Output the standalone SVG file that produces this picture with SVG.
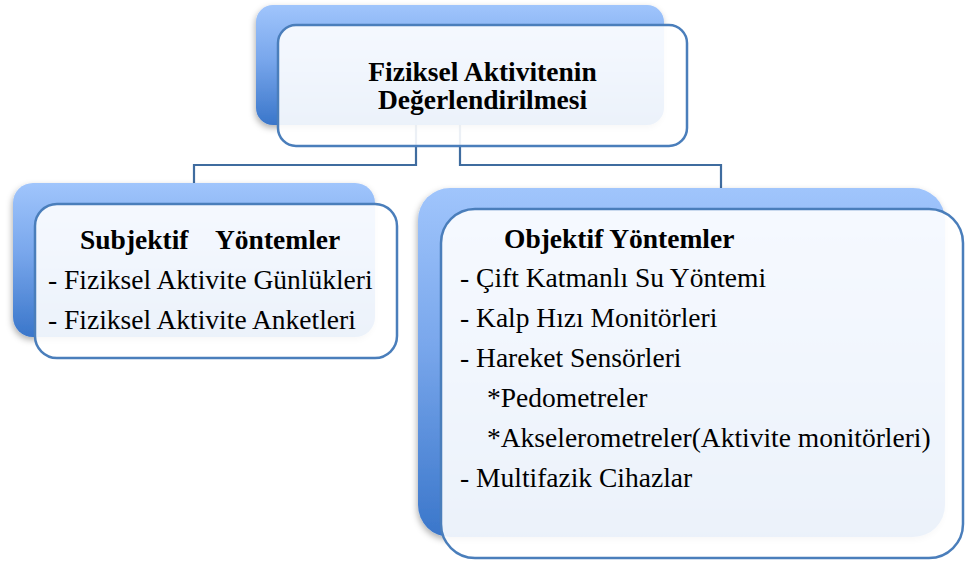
<svg xmlns="http://www.w3.org/2000/svg" width="966" height="562" viewBox="0 0 966 562">
<style>
.back{fill:url(#bg);filter:url(#sh);}
.card{fill:#ffffff;fill-opacity:0.9;stroke:#4a7ebb;stroke-width:2.5;}
.conn{fill:none;stroke:#3f6c9f;stroke-width:2.2;}
text{font-size:27.5px;fill:#000;white-space:pre;}
.b{font-weight:bold;}
.c{text-anchor:middle;}
</style>
<defs>
<linearGradient id="bg" x1="0" y1="0" x2="0" y2="1">
<stop offset="0" stop-color="#a0c5fc"/>
<stop offset="0.45" stop-color="#79a7ec"/>
<stop offset="1" stop-color="#3a76ca"/>
</linearGradient>
<filter id="sh" x="-10%" y="-10%" width="120%" height="125%">
<feDropShadow dx="-1" dy="3" stdDeviation="3" flood-color="#000" flood-opacity="0.3"/>
</filter>
</defs>
<g id="connectors">
<path class="conn" d="M416,125 V165 H194 V184"/>
<path class="conn" d="M460,125 V165 H721 V189"/>
</g>
<g id="node-top" font-family="Liberation Serif, Tinos, Times New Roman, DejaVu Serif, serif">
<rect class="back" x="256" y="5" width="408" height="120" rx="17"/>
<rect class="card" x="278" y="25" width="409" height="121" rx="18"/>
<text class="b c" x="482.5" y="81">Fiziksel Aktivitenin</text>
<text class="b c" x="482.5" y="109">Değerlendirilmesi</text>
</g>
<g id="node-subjektif" font-family="Liberation Serif, Tinos, Times New Roman, DejaVu Serif, serif">
<rect class="back" x="13" y="183" width="362" height="154" rx="20"/>
<rect class="card" x="35" y="204" width="362" height="154" rx="22"/>
<text class="b" x="80" y="249">Subjektif    Yöntemler</text>
<text x="48" y="289">- Fiziksel Aktivite Günlükleri</text>
<text x="48" y="329">- Fiziksel Aktivite Anketleri</text>
</g>
<g id="node-objektif" font-family="Liberation Serif, Tinos, Times New Roman, DejaVu Serif, serif">
<rect class="back" x="418" y="188" width="527" height="349" rx="32"/>
<rect class="card" x="441" y="209" width="522" height="349" rx="34"/>
<text class="b" x="504" y="248">Objektif Yöntemler</text>
<text x="460" y="287">- Çift Katmanlı Su Yöntemi</text>
<text x="460" y="327">- Kalp Hızı Monitörleri</text>
<text x="460" y="367">- Hareket Sensörleri</text>
<text x="487" y="407">*Pedometreler</text>
<text x="487" y="447">*Akselerometreler(Aktivite monitörleri)</text>
<text x="460" y="487">- Multifazik Cihazlar</text>
</g>
</svg>
